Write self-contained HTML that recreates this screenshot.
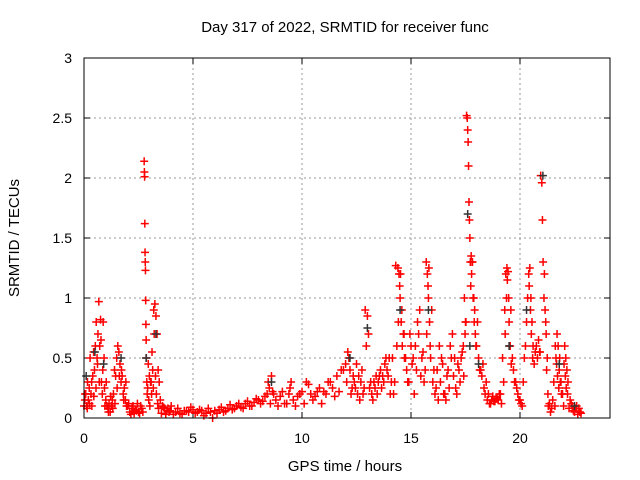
<!DOCTYPE html>
<html><head><meta charset="utf-8"><style>
body{margin:0;background:#fff;}
svg{display:block;font-family:"Liberation Sans",sans-serif;}
</style></head><body>
<svg id="chart" width="640" height="480" viewBox="0 0 640 480">
<text x="345" y="32" font-size="15" text-anchor="middle">Day 317 of 2022, SRMTID for receiver func</text>
<text transform="translate(19,238) rotate(-90)" font-size="15" text-anchor="middle">SRMTID / TECUs</text>
<text x="345" y="471" font-size="15" text-anchor="middle">GPS time / hours</text>
<g id="grid"></g><g id="ticks"></g><g id="marks"></g>
<rect x="84" y="58" width="526" height="360" fill="none" stroke="#000" stroke-width="1"/>
</svg>
<script>
const xTicks=[0,5,10,15,20];
const yTicks=[0,0.5,1,1.5,2,2.5,3];
const yTickLabels=["0","0.5","1","1.5","2","2.5","3"];
const hours=[0,0.04,0.08,0.12,0.16,0.2,0.24,0.28,0.32,0.36,0.4,0.44,0.48,0.52,0.56,0.6,0.64,0.68,0.72,0.76,0.8,0.84,0.88,0.92,0.96,1.0,1.05,1.1,1.15,1.2,1.25,1.3,1.35,1.4,1.45,1.5,1.55,1.6,1.65,1.7,1.75,1.8,1.85,1.9,1.95,2.0,2.1,2.2,2.3,2.4,2.5,2.6,2.7,2.76,2.77,2.78,2.79,2.8,2.81,2.82,2.83,2.84,2.85,2.86,2.88,2.9,2.95,3.0,3.05,3.1,3.15,3.2,3.25,3.3,3.35,3.4,3.45,3.5,3.6,3.7,3.8,3.9,4.0,4.2,4.4,4.6,4.8,5.0,5.2,5.4,5.6,5.8,5.9,6.0,6.2,6.4,6.6,6.8,7.0,7.2,7.4,7.6,7.8,8.0,8.2,8.4,8.5,8.6,8.7,8.8,9.0,9.2,9.4,9.5,9.6,9.8,10.0,10.2,10.4,10.6,10.8,11.0,11.2,11.4,11.6,11.8,12.0,12.1,12.2,12.3,12.4,12.5,12.6,12.7,12.8,12.9,13.0,13.05,13.1,13.2,13.3,13.4,13.5,13.6,13.7,13.8,13.9,14.0,14.1,14.2,14.3,14.4,14.45,14.5,14.55,14.6,14.65,14.7,14.8,14.9,15.0,15.1,15.2,15.3,15.4,15.5,15.6,15.7,15.75,15.8,15.85,15.9,16.0,16.1,16.2,16.3,16.4,16.5,16.6,16.7,16.8,16.9,17.0,17.1,17.2,17.3,17.4,17.45,17.5,17.55,17.58,17.6,17.62,17.64,17.66,17.68,17.7,17.72,17.74,17.76,17.8,17.85,17.9,17.95,18.0,18.1,18.2,18.3,18.4,18.5,18.6,18.7,18.8,18.9,19.0,19.1,19.2,19.3,19.35,19.4,19.45,19.5,19.55,19.6,19.7,19.8,19.9,20.0,20.1,20.2,20.3,20.4,20.45,20.5,20.55,20.6,20.7,20.8,20.9,20.95,21.0,21.03,21.06,21.1,21.15,21.2,21.25,21.3,21.4,21.5,21.6,21.65,21.7,21.75,21.8,21.85,21.9,22.0,22.05,22.1,22.15,22.2,22.3,22.4,22.5,22.6,22.7,22.8];
const tec=[0.1,0.15,0.2,0.1,0.3,0.15,0.25,0.5,0.2,0.1,0.35,0.55,0.4,0.6,0.8,0.5,0.7,0.97,0.6,0.82,0.3,0.2,0.8,0.5,0.1,0.15,0.1,0.08,0.12,0.05,0.1,0.15,0.2,0.4,0.35,0.5,0.6,0.55,0.45,0.3,0.35,0.2,0.25,0.15,0.1,0.1,0.05,0.08,0.04,0.06,0.05,0.1,0.05,2.14,2.05,2.01,1.62,1.38,1.3,1.23,0.98,0.78,0.65,0.5,0.3,0.2,0.45,0.35,0.3,0.2,0.4,0.9,0.95,0.85,0.7,0.4,0.3,0.15,0.1,0.08,0.06,0.05,0.1,0.05,0.04,0.06,0.05,0.07,0.05,0.06,0.04,0.05,0.0,0.06,0.07,0.05,0.08,0.07,0.1,0.09,0.12,0.1,0.13,0.15,0.14,0.2,0.25,0.35,0.2,0.15,0.18,0.12,0.2,0.3,0.15,0.18,0.22,0.3,0.2,0.18,0.25,0.22,0.3,0.25,0.35,0.4,0.45,0.55,0.4,0.25,0.3,0.45,0.35,0.3,0.2,0.9,0.85,0.7,0.25,0.2,0.3,0.35,0.3,0.4,0.35,0.45,0.4,0.5,0.3,0.2,1.27,1.25,1.2,1.0,0.8,0.6,0.7,0.5,0.4,0.3,0.6,0.5,0.6,0.8,0.9,0.5,0.3,1.3,1.2,1.0,0.8,0.5,0.3,0.2,0.4,0.6,0.5,0.2,0.15,0.4,0.6,0.7,0.5,0.2,0.4,0.5,0.6,1.0,0.8,2.52,2.5,2.4,2.3,2.1,1.8,1.65,1.5,1.3,1.1,1.35,1.3,1.0,0.8,0.7,0.6,0.5,0.4,0.45,0.2,0.15,0.12,0.15,0.14,0.16,0.15,0.2,0.5,0.9,1.2,1.25,1.22,0.8,0.6,0.45,0.4,0.3,0.2,0.15,0.1,0.5,0.8,1.2,1.25,1.0,0.8,0.6,0.55,0.5,0.55,2.02,1.96,1.65,1.3,1.0,0.9,0.7,0.5,0.1,0.05,0.15,0.1,0.5,0.7,0.6,0.4,0.3,0.2,0.1,0.6,0.5,0.4,0.3,0.15,0.1,0.05,0.1,0.08,0.04,0.06,0.05];
const extraHours=[0.05,0.15,0.25,0.35,0.45,0.55,0.62,0.7,0.78,0.86,0.94,1.02,1.12,1.22,1.32,1.42,1.52,1.62,1.72,1.82,1.92,2.05,2.15,2.25,2.35,2.45,2.55,2.65,2.92,2.97,3.02,3.08,3.12,3.18,3.22,3.28,3.32,3.38,3.42,3.55,3.65,3.75,3.85,3.95,4.1,4.3,4.5,4.7,4.9,5.1,5.3,5.5,5.7,6.1,6.3,6.5,6.7,6.9,7.1,7.3,7.5,7.7,7.9,8.1,8.3,8.45,8.55,8.65,8.9,9.1,9.3,9.45,9.7,9.9,10.1,10.3,10.5,10.7,10.9,11.1,11.3,11.5,11.7,11.9,12.05,12.15,12.25,12.35,12.45,12.55,12.65,12.75,12.85,12.95,13.15,13.25,13.35,13.45,13.55,13.65,13.75,13.85,13.95,14.05,14.15,14.25,14.35,14.42,14.48,14.52,14.58,14.68,14.75,14.85,14.95,15.05,15.15,15.25,15.35,15.45,15.55,15.65,15.72,15.78,15.82,15.88,15.95,16.05,16.15,16.25,16.35,16.45,16.55,16.65,16.75,16.85,16.95,17.05,17.15,17.25,17.35,17.42,17.48,17.52,17.78,17.82,17.88,17.92,17.98,18.05,18.15,18.25,18.35,18.45,18.55,18.65,18.75,18.85,18.95,19.05,19.15,19.25,19.32,19.38,19.42,19.48,19.52,19.58,19.65,19.75,19.85,19.95,20.05,20.15,20.25,20.35,20.42,20.48,20.52,20.58,20.65,20.75,20.85,20.92,21.12,21.18,21.22,21.28,21.35,21.45,21.55,21.62,21.68,21.72,21.78,21.82,21.88,21.95,22.02,22.08,22.12,22.18,22.25,22.35,22.45,22.55,22.65,22.75];
const extraTec=[0.2,0.08,0.12,0.3,0.18,0.25,0.45,0.3,0.65,0.4,0.25,0.3,0.05,0.18,0.08,0.12,0.25,0.35,0.4,0.15,0.3,0.12,0.03,0.1,0.07,0.12,0.04,0.08,0.25,0.15,0.1,0.3,0.55,0.25,0.7,0.35,0.2,0.12,0.08,0.04,0.09,0.03,0.08,0.06,0.03,0.08,0.03,0.06,0.09,0.04,0.07,0.02,0.08,0.04,0.09,0.06,0.11,0.08,0.12,0.08,0.14,0.1,0.16,0.12,0.18,0.3,0.12,0.22,0.1,0.22,0.12,0.25,0.1,0.2,0.12,0.28,0.15,0.22,0.12,0.2,0.3,0.18,0.22,0.4,0.3,0.5,0.2,0.35,0.25,0.2,0.15,0.4,0.25,0.6,0.3,0.15,0.25,0.2,0.35,0.25,0.3,0.5,0.35,0.2,0.5,0.3,0.6,0.8,1.1,1.2,0.9,0.7,0.5,0.3,0.7,0.45,0.2,0.4,0.7,0.35,0.55,0.4,0.7,1.1,1.25,0.6,0.9,0.4,0.25,0.15,0.3,0.45,0.2,0.35,0.25,0.5,0.35,0.25,0.45,0.3,0.55,0.35,0.7,0.8,1.2,1.3,1.0,0.9,0.6,0.8,0.4,0.35,0.25,0.3,0.2,0.12,0.18,0.14,0.16,0.2,0.12,0.3,0.7,1.0,1.15,1.0,0.6,0.9,0.5,0.3,0.25,0.15,0.12,0.3,0.6,1.0,1.1,0.9,0.7,0.5,0.45,0.6,0.65,0.55,1.2,0.8,0.4,0.2,0.12,0.08,0.3,0.6,0.45,0.35,0.25,0.5,0.3,0.2,0.45,0.35,0.25,0.2,0.08,0.12,0.06,0.08,0.03,0.05];
const blackHours=[0.1,0.5,0.9,1.7,2.85,3.3,8.6,12.2,13.0,14.5,15.8,17.6,17.7,18.1,19.5,20.3,21.05,21.8,22.5];
const blackTec=[0.35,0.55,0.45,0.5,0.5,0.7,0.3,0.5,0.75,0.9,0.9,1.7,0.6,0.45,0.6,0.9,2.02,0.45,0.1];
const NS="http://www.w3.org/2000/svg";
const X=h=>84+h*21.8, Y=v=>418-v*120;
function mk(tag,attrs,parent){const e=document.createElementNS(NS,tag);for(const k in attrs)e.setAttribute(k,attrs[k]);parent.appendChild(e);return e;}
const grid=document.getElementById('grid'),ticks=document.getElementById('ticks'),marks=document.getElementById('marks');
xTicks.forEach(t=>{
  if(t>0){const g=mk('line',{x1:X(t),x2:X(t),y1:58,y2:418,stroke:'#999','stroke-dasharray':'2,3'},grid);
  
  }
  mk('line',{x1:X(t),x2:X(t),y1:418,y2:412,stroke:'#000'},ticks);
  mk('line',{x1:X(t),x2:X(t),y1:58,y2:64,stroke:'#000'},ticks);
  const l=mk('text',{x:X(t),y:443,'font-size':14,'text-anchor':'middle'},ticks);l.textContent=t;
  
  
});
yTicks.forEach((v,i)=>{
  if(v>0&&v<3){const g=mk('line',{x1:84,x2:610,y1:Y(v),y2:Y(v),stroke:'#999','stroke-dasharray':'2,3'},grid);
  
  }
  mk('line',{x1:84,x2:90,y1:Y(v),y2:Y(v),stroke:'#000'},ticks);
  mk('line',{x1:610,x2:604,y1:Y(v),y2:Y(v),stroke:'#000'},ticks);
  const l=mk('text',{x:72,y:Y(v)+5,'font-size':14,'text-anchor':'end'},ticks);l.textContent=yTickLabels[i];
  
  
});
function plus(h,v,col){const x=X(h),y=Y(v);
  return mk('path',{d:`M${x-4},${y}H${x+4}M${x},${y-4}V${y+4}`,stroke:col,'stroke-width':1.5,fill:'none'},marks);}
hours.forEach((h,i)=>{const p=plus(h,tec[i],'#ff0000');
  
  });
extraHours.forEach((h,i)=>{const p=plus(h,extraTec[i],'#ff0000');
  
  });
blackHours.forEach((h,i)=>{const p=plus(h,blackTec[i],'#333');
  
  });
</script>
</body></html>
